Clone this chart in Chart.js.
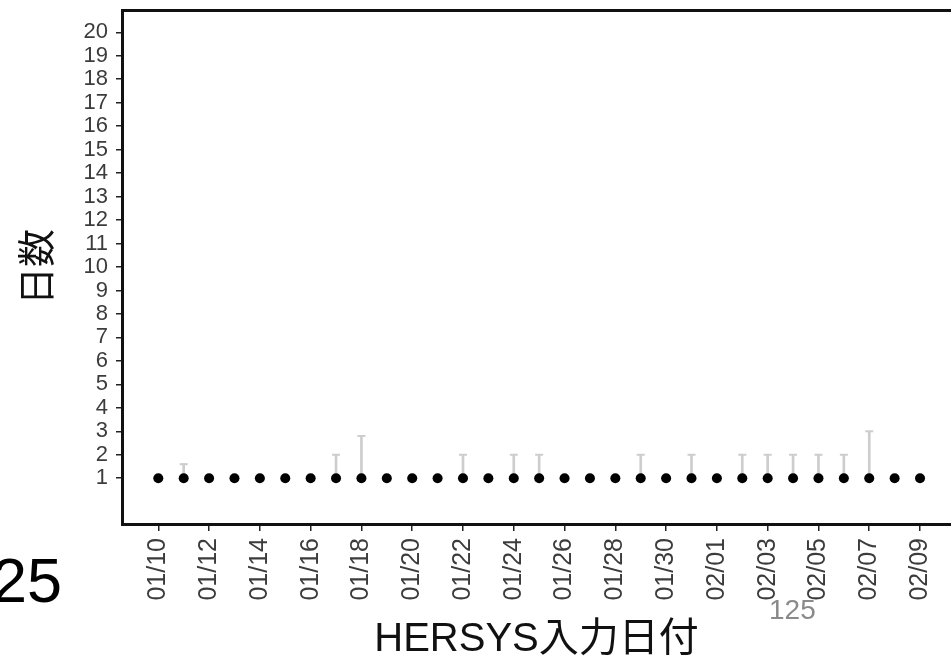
<!DOCTYPE html>
<html>
<head>
<meta charset="utf-8">
<script src="https://cdn.jsdelivr.net/npm/chart.js@4"></script>
<style>
  html, body { margin: 0; padding: 0; background: #fff; overflow: hidden; }
  #wrap { position: relative; width: 951px; height: 660px; overflow: hidden; }
  canvas { position: absolute; left: 0; top: 0; }
  .note { position: absolute; font-family: "Liberation Sans", Arial, sans-serif; line-height: 1; white-space: nowrap; }
</style>
</head>
<body>
<div id="wrap">
  <canvas id="c" width="951" height="660"></canvas>
  <div class="note" style="left:-8px; top:549px; font-size:63px; color:#000;">25</div>
  <div class="note" style="left:769px; top:596px; font-size:28px; color:#8a8a8a;">125</div>
</div>
<script>
// Entry dates (one point per day)
const dates = [
  '01/10','01/11','01/12','01/13','01/14','01/15','01/16','01/17','01/18','01/19',
  '01/20','01/21','01/22','01/23','01/24','01/25','01/26','01/27','01/28','01/29',
  '01/30','01/31','02/01','02/02','02/03','02/04','02/05','02/06','02/07','02/08','02/09'
];
// Labels shown on the date axis
const xTickLabels = [
  '01/10','01/12','01/14','01/16','01/18','01/20','01/22','01/24',
  '01/26','01/28','01/30','02/01','02/03','02/05','02/07','02/09'
];
// Median number of days per entry date
const medianDays = [
  1,1,1,1,1,1,1,1,1,1,
  1,1,1,1,1,1,1,1,1,1,
  1,1,1,1,1,1,1,1,1,1,1
];
// Upper end of the range (null = no range drawn)
const upperDays = [
  null,1.6,null,null,null,null,null,2,2.8,null,
  null,null,2,null,2,2,null,null,null,2,
  null,2,null,2,2,2,2,2,3,null,null
];
// Day-count ticks
const yTickValues = [1,2,3,4,5,6,7,8,9,10,11,12,13,14,15,16,17,18,19,20];

const FONT = '"Liberation Sans", "Noto Sans CJK JP", Arial, sans-serif';
const RANGE_COLOR = '#cdcdcd';

const points = dates.map((d, i) => ({ x: i, y: medianDays[i] }));
const rangeBars = [];
const rangeCaps = [];
upperDays.forEach((u, i) => {
  if (u !== null) {
    rangeBars.push({ x: i, y: [medianDays[i], u] });
    rangeCaps.push({ x: i, y: u });
  }
});

const X_MIN = -1.43, X_MAX = 31.22;

new Chart(document.getElementById('c'), {
  type: 'scatter',
  data: {
    datasets: [
      {
        type: 'scatter', data: points, order: 0,
        pointRadius: 5, pointHoverRadius: 5,
        backgroundColor: '#000', borderColor: '#000', borderWidth: 0
      },
      {
        type: 'bar', data: rangeBars, order: 1,
        barThickness: 2, backgroundColor: RANGE_COLOR, borderWidth: 0
      },
      {
        type: 'scatter', data: rangeCaps, order: 1,
        pointStyle: 'line', pointRadius: 4, pointHoverRadius: 4,
        borderColor: RANGE_COLOR, borderWidth: 2
      }
    ]
  },
  options: {
    responsive: false,
    animation: false,
    events: [],
    layout: { autoPadding: false, padding: { top: 10, left: 0, right: 0, bottom: 0 } },
    plugins: { legend: { display: false }, tooltip: { enabled: false } },
    scales: {
      x: {
        type: 'linear', position: 'bottom', min: X_MIN, max: X_MAX, offset: false,
        afterBuildTicks: s => { s.ticks = xTickLabels.map(l => ({ value: dates.indexOf(l) })); },
        afterFit: s => { s.height = 136; s.paddingLeft = 0; s.paddingRight = 0; },
        ticks: {
          autoSkip: false, minRotation: 90, maxRotation: 90, padding: 7,
          color: '#3c3c3c', font: { family: FONT, size: 25 },
          callback: v => dates[v]
        },
        grid: { display: true, offset: false, drawOnChartArea: false, drawTicks: true, tickLength: 7, tickColor: '#222', lineWidth: 1.5 },
        border: { display: true, color: '#111', width: 3 },
        title: {
          display: true, text: 'HERSYS入力日付', color: '#111',
          font: { family: FONT, size: 40, lineHeight: 1 }, padding: { top: 0, bottom: 0 }
        }
      },
      x2: {
        type: 'linear', position: 'top', min: X_MIN, max: X_MAX, offset: false,
        ticks: { display: false },
        grid: { display: false, offset: false, drawTicks: false },
        border: { display: true, color: '#111', width: 3 },
        afterFit: s => { s.height = 0; s.paddingLeft = 0; s.paddingRight = 0; }
      },
      y: {
        type: 'linear', min: -0.95, max: 20.95,
        afterBuildTicks: s => { s.ticks = yTickValues.map(v => ({ value: v })); },
        afterFit: s => { s.width = 122; s.paddingTop = 0; s.paddingBottom = 0; },
        ticks: { autoSkip: false, padding: 8, color: '#3c3c3c', font: { family: FONT, size: 22 } },
        grid: { drawOnChartArea: false, drawTicks: true, tickLength: 6, tickColor: '#222', lineWidth: 1.5 },
        border: { display: true, color: '#111', width: 3 },
        title: {
          display: true, text: '日数', color: '#111',
          font: { family: FONT, size: 38, lineHeight: 1.2 }, padding: { top: 17, bottom: 0 }
        }
      }
    }
  }
});
</script>
</body>
</html>
